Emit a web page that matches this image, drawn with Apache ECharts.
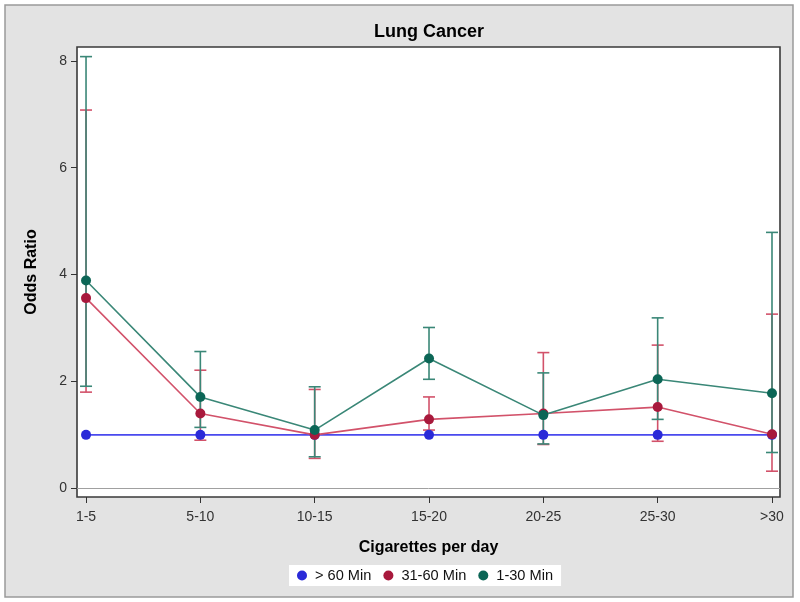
<!DOCTYPE html>
<html>
<head>
<meta charset="utf-8">
<script src="https://cdn.jsdelivr.net/npm/echarts@6/dist/echarts.min.js"></script>
<style>html,body{margin:0;padding:0;background:#fff}#c{width:800px;height:602px}</style>
</head>
<body>
<div id="c"></div>
<script>
const categories = ['1-5', '5-10', '10-15', '15-20', '20-25', '25-30', '>30'];
const seriesNames = ['> 60 Min', '31-60 Min', '1-30 Min'];
const over60 = [1, 1, 1, 1, 1, 1, 1];
const min31to60 = [3.56, 1.40, 1.00, 1.29, 1.40, 1.52, 1.01];
const min31to60Low = [1.80, 0.90, 0.56, 1.09, 0.82, 0.88, 0.32];
const min31to60High = [7.08, 2.21, 1.85, 1.71, 2.54, 2.68, 3.26];
const min1to30 = [3.89, 1.71, 1.09, 2.43, 1.37, 2.04, 1.78];
const min1to30Low = [1.91, 1.14, 0.59, 2.04, 0.83, 1.29, 0.67];
const min1to30High = [8.08, 2.56, 1.90, 3.01, 2.16, 3.19, 4.79];
const yTicks = [0, 2, 4, 6, 8];

const FONT = "'Liberation Sans', Arial, sans-serif";
const colors = {
  blue: {marker: '#2a2ad8', line: '#4a4aee'},
  red: {marker: '#a8193c', line: '#d2526a'},
  teal: {marker: '#0c6656', line: '#3a8777'}
};

function pts(arr) { return arr.map((v, i) => [i, v]); }
function errData(lo, hi) { return lo.map((v, i) => [i, v, hi[i]]); }
function errSeries(name, lo, hi, color, z) {
  return {
    type: 'custom', name: name, z: z,
    data: errData(lo, hi),
    encode: {x: 0, y: [1, 2]},
    renderItem: function (params, api) {
      const x = api.value(0);
      const a = api.coord([x, api.value(1)]);
      const b = api.coord([x, api.value(2)]);
      const w = 6;
      const st = {stroke: color, lineWidth: 1.6};
      return {type: 'group', children: [
        {type: 'line', shape: {x1: a[0], y1: a[1], x2: b[0], y2: b[1]}, style: st},
        {type: 'line', shape: {x1: a[0] - w, y1: a[1], x2: a[0] + w, y2: a[1]}, style: st},
        {type: 'line', shape: {x1: b[0] - w, y1: b[1], x2: b[0] + w, y2: b[1]}, style: st}
      ]};
    }
  };
}
function lineSeries(name, data, c, z) {
  return {
    type: 'line', name: name, data: pts(data), z: z,
    symbol: 'circle', symbolSize: 10,
    itemStyle: {color: c.marker},
    lineStyle: {color: c.line, width: 1.6},
    emphasis: {disabled: true}
  };
}

const chart = echarts.init(document.getElementById('c'), null, {renderer: 'canvas'});
const idx = categories.map((c, i) => i);
chart.setOption({
  animation: false,
  backgroundColor: '#ffffff',
  graphic: [{
    type: 'rect', z: -100, silent: true,
    shape: {x: 5, y: 5, width: 788, height: 592},
    style: {fill: '#e3e3e3', stroke: '#9a9a9a', lineWidth: 1.5}
  }],
  title: {
    text: 'Lung Cancer', left: 424, top: 18, textAlign: 'center',
    textStyle: {fontFamily: FONT, fontWeight: 'bold', fontSize: 18, color: '#000'}
  },
  legend: {
    data: seriesNames.map(n => ({name: n, icon: 'circle'})),
    left: 289, top: 565,
    backgroundColor: '#ffffff',
    padding: [3, 8, 3, 8],
    itemWidth: 10, itemHeight: 10, itemGap: 12,
    textStyle: {fontFamily: FONT, fontSize: 14.6, color: '#111', padding: [0, 0, 0, 3]}
  },
  grid: {
    left: 77, right: 20, top: 47, bottom: 105,
    show: true, backgroundColor: '#ffffff', borderColor: '#3a3a3a', borderWidth: 1.6
  },
  xAxis: {
    type: 'value', min: -0.079, max: 6.07,
    name: 'Cigarettes per day', nameLocation: 'middle', nameGap: 43,
    nameTextStyle: {fontFamily: FONT, fontWeight: 'bold', fontSize: 16, color: '#000'},
    axisLine: {show: false, onZero: false},
    splitLine: {show: false},
    axisTick: {show: true, customValues: idx, length: 6, lineStyle: {color: '#333'}},
    axisLabel: {customValues: idx, formatter: v => categories[Math.round(v)], margin: 13,
      fontFamily: FONT, fontSize: 14, color: '#333'}
  },
  yAxis: {
    type: 'value', min: -0.163, max: 8.26,
    name: 'Odds Ratio', nameLocation: 'middle', nameGap: 37,
    nameTextStyle: {fontFamily: FONT, fontWeight: 'bold', fontSize: 16, color: '#000'},
    axisLine: {show: false, onZero: false},
    splitLine: {show: false},
    axisTick: {show: true, customValues: yTicks, length: 6, lineStyle: {color: '#333'}},
    axisLabel: {customValues: yTicks, margin: 10, fontFamily: FONT, fontSize: 14, color: '#333'}
  },
  series: [
    errSeries('err2', min31to60Low, min31to60High, colors.red.line, 2),
    errSeries('err1', min1to30Low, min1to30High, colors.teal.line, 2.5),
    Object.assign(lineSeries(seriesNames[0], over60, colors.blue, 3), {
      markLine: {silent: true, symbol: 'none', label: {show: false},
        lineStyle: {color: '#a0a0a0', width: 1, type: 'solid'},
        data: [{yAxis: 0}]}
    }),
    lineSeries(seriesNames[1], min31to60, colors.red, 4),
    lineSeries(seriesNames[2], min1to30, colors.teal, 5)
  ]
});
</script>
</body>
</html>
